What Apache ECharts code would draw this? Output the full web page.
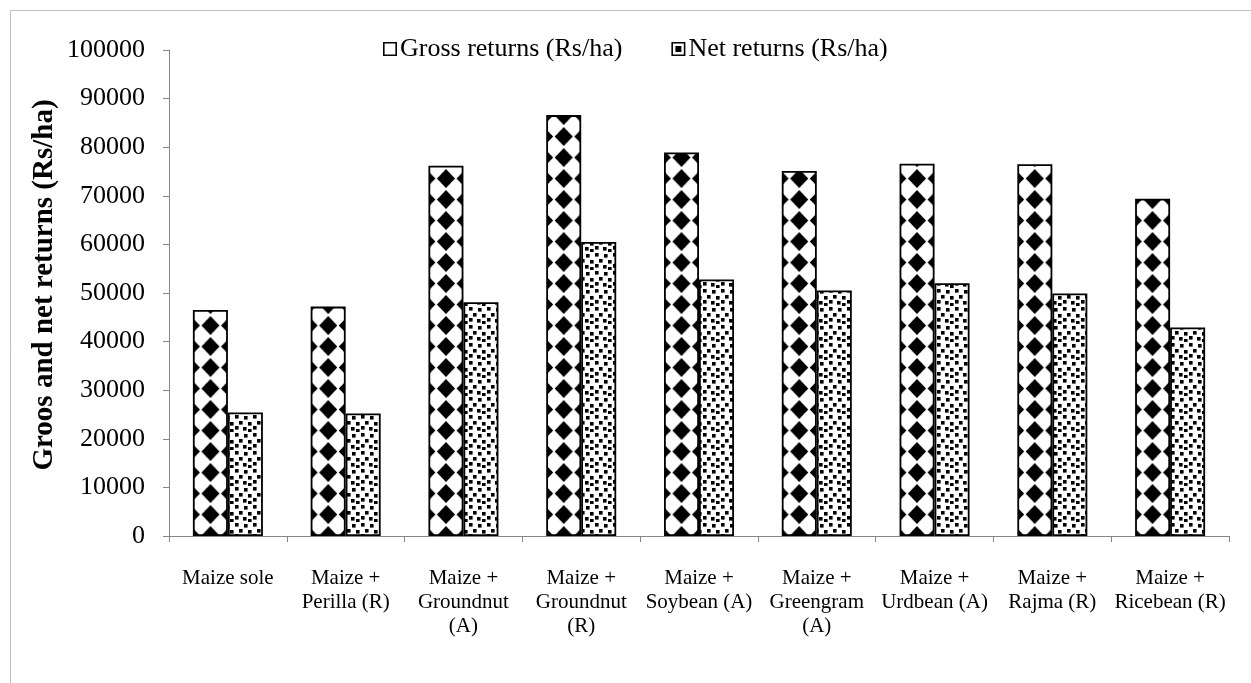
<!DOCTYPE html>
<html>
<head>
<meta charset="utf-8">
<script src="https://cdn.jsdelivr.net/npm/echarts@6/dist/echarts.min.js"></script>
<style>
html,body{margin:0;padding:0;background:#fff;}
#chart{width:1251px;height:683px;}
</style>
</head>
<body>
<div id="chart"></div>
<script>
const categories = ['Maize sole', 'Maize +\nPerilla (R)', 'Maize +\nGroundnut\n(A)', 'Maize +\nGroundnut\n(R)', 'Maize +\nSoybean (A)', 'Maize +\nGreengram\n(A)', 'Maize +\nUrdbean (A)', 'Maize +\nRajma (R)', 'Maize +\nRicebean (R)'];
const grossReturns = [46500, 47200, 76200, 86600, 78900, 75100, 76600, 76500, 69400];
const netReturns = [25400, 25200, 48100, 60500, 52800, 50500, 52000, 49900, 42900];
const seriesNames = ['Gross returns (Rs/ha)', 'Net returns (Rs/ha)'];
const yTicks = {min: 0, max: 100000, interval: 10000};

function diamondTile() {
  const w = 20, h = 21;
  const c = document.createElement('canvas');
  c.width = w; c.height = h;
  const g = c.getContext('2d');
  g.fillStyle = '#fff'; g.fillRect(0, 0, w, h);
  g.fillStyle = '#000';
  g.filter = 'blur(0.7px)';
  g.beginPath();
  g.moveTo(w / 2, 0.9); g.lineTo(w - 0.8, h / 2); g.lineTo(w / 2, h - 0.9); g.lineTo(0.8, h / 2); g.closePath();
  g.fill();
  return c;
}
function confettiTile() {
  const c = document.createElement('canvas');
  c.width = 18; c.height = 18;
  const g = c.getContext('2d');
  g.fillStyle = '#fff'; g.fillRect(0, 0, 18, 18);
  g.fillStyle = '#000';
  const pts = [[1,1],[10,2],[5,7],[14,8],[1,12],[9,13],[14,15]];
  pts.forEach(p => g.fillRect(p[0], p[1], 3.6, 3.6));
  return c;
}
const grossPattern = {image: diamondTile(), repeat: 'repeat', x: 4.4, y: 0, scaleX: 0.98125, scaleY: 1};
const netPattern = {image: confettiTile(), repeat: 'repeat'};

const iconGross = 'path://M0,0H14V14H0Z M1.6,1.6V12.4H12.4V1.6Z';
const iconNet = 'path://M0,0H14V14H0Z M1.6,1.6V12.4H12.4V1.6Z M4,4H10V10H4Z';

const chart = echarts.init(document.getElementById('chart'), null, {renderer: 'canvas'});
const serif = '"Liberation Serif", "Times New Roman", serif';
chart.setOption({
  backgroundColor: '#fff',
  animation: false,
  textStyle: {fontFamily: serif, color: '#000'},
  graphic: [{
    type: 'rect', left: 8, top: 8, silent: true,
    shape: {width: 1300, height: 700},
    style: {fill: 'none', stroke: '#bfbfbf', lineWidth: 1}
  }],
  legend: {
    top: 31, left: 378,
    itemWidth: 14, itemHeight: 14, itemGap: 49,
    textStyle: {fontFamily: serif, fontSize: 26, color: '#000', padding: [0, 0, 0, -2]},
    data: [
      {name: seriesNames[0], icon: iconGross, itemStyle: {color: '#000', borderWidth: 0}},
      {name: seriesNames[1], icon: iconNet, itemStyle: {color: '#000', borderWidth: 0}}
    ]
  },
  grid: {left: 169, right: 22, top: 50, bottom: 147, containLabel: false},
  xAxis: {
    type: 'category', data: categories,
    axisLine: {lineStyle: {color: '#868686', width: 1}},
    axisTick: {show: true, length: 6, alignWithLabel: false, lineStyle: {color: '#868686'}},
    axisLabel: {interval: 0, fontFamily: serif, fontSize: 21, lineHeight: 24, color: '#000', margin: 30, align: 'center'}
  },
  yAxis: {
    type: 'value', min: yTicks.min, max: yTicks.max, interval: yTicks.interval,
    name: 'Groos and net returns (Rs/ha)', nameLocation: 'middle', nameRotate: 90, nameGap: 110,
    nameMoveOverlap: false,
    nameTextStyle: {fontFamily: serif, fontSize: 29, fontWeight: 'bold', color: '#000', padding: [0, 0, 0, 16]},
    axisLine: {show: true, lineStyle: {color: '#868686', width: 1}},
    axisTick: {show: true, length: 6, lineStyle: {color: '#868686'}},
    splitLine: {show: false},
    axisLabel: {fontFamily: serif, fontSize: 26, color: '#000', margin: 24, formatter: v => String(v)}
  },
  series: [
    {
      name: seriesNames[0], type: 'bar', data: grossReturns, barWidth: 35, barGap: '0%',
      itemStyle: {color: grossPattern, borderColor: '#000', borderWidth: 1.8}
    },
    {
      name: seriesNames[1], type: 'bar', data: netReturns, barWidth: 35,
      itemStyle: {color: netPattern, borderColor: '#000', borderWidth: 1.8}
    }
  ]
});
</script>
</body>
</html>
